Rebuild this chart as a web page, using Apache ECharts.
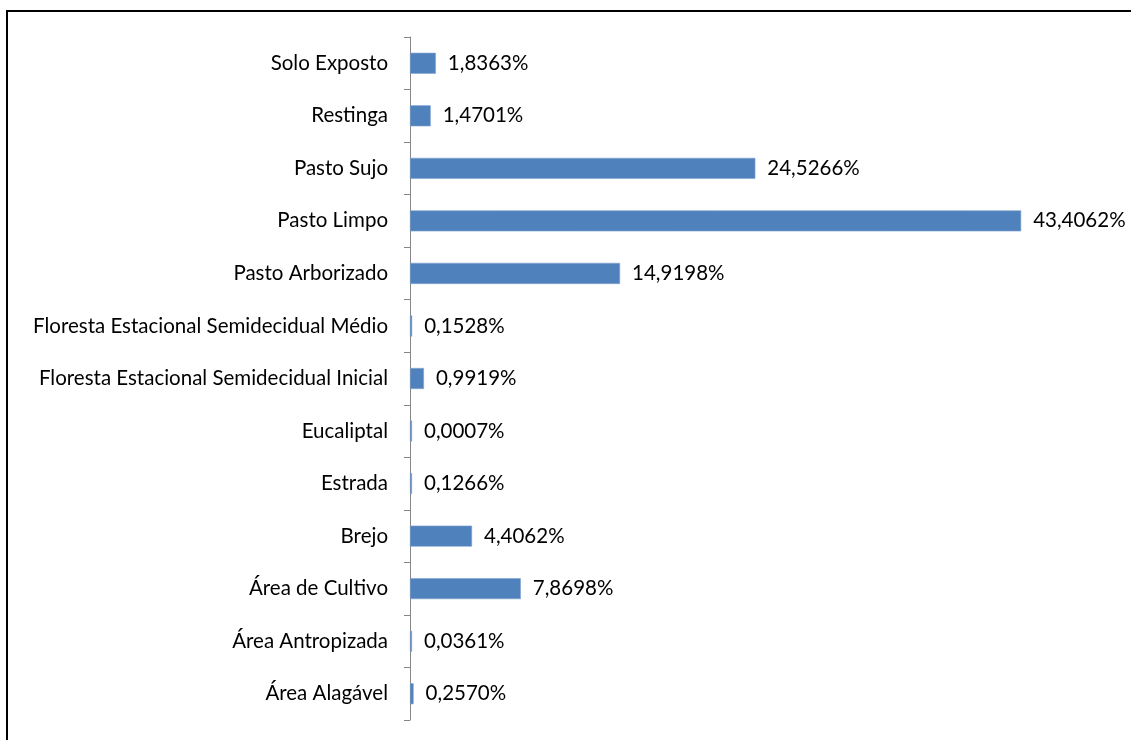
<!DOCTYPE html>
<html>
<head>
<meta charset="utf-8">
<script src="https://cdn.jsdelivr.net/npm/echarts@6/dist/echarts.min.js"></script>
<style>
  html, body { margin: 0; padding: 0; background: #fff; }
  #chart { width: 1131px; height: 740px; }
</style>
</head>
<body>
<div id="chart"></div>
<script>
// Land-use classes, listed bottom to top as drawn on the category axis
const categories = [
  'Área Alagável',
  'Área Antropizada',
  'Área de Cultivo',
  'Brejo',
  'Estrada',
  'Eucaliptal',
  'Floresta Estacional Semidecidual Inicial',
  'Floresta Estacional Semidecidual Médio',
  'Pasto Arborizado',
  'Pasto Limpo',
  'Pasto Sujo',
  'Restinga',
  'Solo Exposto'
];

// Share of total area, in percent
const shares = [
  0.2570,
  0.0361,
  7.8698,
  4.4062,
  0.1266,
  0.0007,
  0.9919,
  0.1528,
  14.9198,
  43.4062,
  24.5266,
  1.4701,
  1.8363
];

const fontFamily = 'Lato, "Open Sans", "Noto Sans", sans-serif';
const fmt = v => v.toFixed(4).replace('.', ',') + '%';

const chart = echarts.init(document.getElementById('chart'));
chart.setOption({
  animation: false,
  backgroundColor: '#ffffff',
  graphic: [{
    type: 'rect',
    shape: { x: 7, y: 11, width: 1300, height: 900 },
    style: { fill: 'none', stroke: '#000000', lineWidth: 2 },
    silent: true
  }],
  grid: { left: 410, right: 17, top: 37, bottom: 20, containLabel: false },
  xAxis: {
    type: 'value',
    min: 0,
    max: 50,
    show: false
  },
  yAxis: {
    type: 'category',
    data: categories,
    boundaryGap: true,
    axisLine: { show: true, lineStyle: { color: '#868686', width: 1 } },
    axisTick: { show: true, length: 6, lineStyle: { color: '#868686' } },
    axisLabel: {
      margin: 22,
      color: '#000000',
      fontSize: 20.5,
      fontFamily: fontFamily,
      padding: [3, 0, 0, 0]
    },
    splitLine: { show: false }
  },
  series: [{
    type: 'bar',
    data: shares,
    barWidth: '40%',
    barMinHeight: 2,
    itemStyle: { color: '#4F81BD', borderColor: '#7FA3CF', borderWidth: 0.6 },
    label: {
      show: true,
      position: 'right',
      distance: 12,
      color: '#000000',
      fontSize: 20.5,
      fontFamily: fontFamily,
      padding: [3, 0, 0, 0],
      formatter: p => fmt(p.value)
    }
  }]
});
</script>
</body>
</html>
